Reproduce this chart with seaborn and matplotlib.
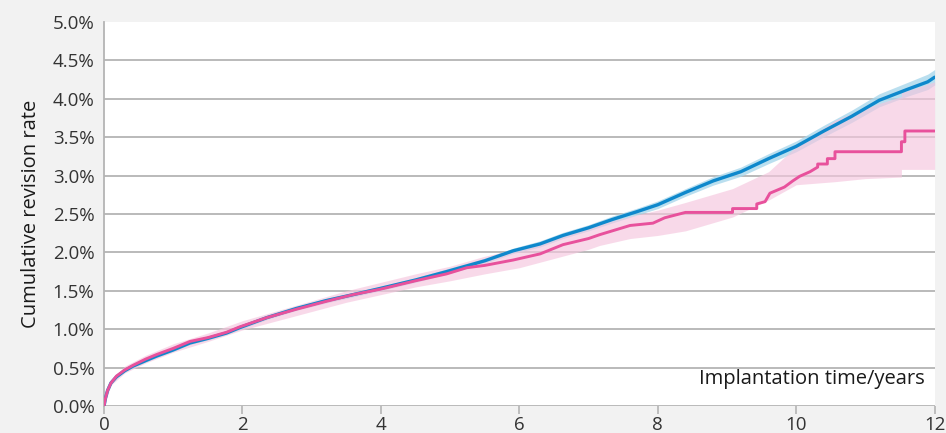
import numpy as np
import pandas as pd
import seaborn as sns
import matplotlib.pyplot as plt
from matplotlib.ticker import FuncFormatter

# 파란 곡선 (smooth)
blue_t = [0, 0.02, 0.05, 0.1, 0.18, 0.3, 0.42, 0.6, 0.76, 1.0, 1.24, 1.5, 1.77, 1.96,
          2.35, 2.78, 3.2, 3.6, 3.99, 4.5, 4.95, 5.5, 5.91, 6.3, 6.63, 7.0, 7.35, 7.7,
          8.0, 8.4, 8.8, 9.2, 9.6, 10.0, 10.4, 10.8, 11.2, 11.6, 11.9, 12.0]
blue_y = [0, 0.1, 0.2, 0.3, 0.38, 0.46, 0.52, 0.59, 0.65, 0.73, 0.82, 0.88, 0.95, 1.02,
          1.15, 1.27, 1.37, 1.45, 1.53, 1.64, 1.75, 1.89, 2.02, 2.11, 2.22, 2.32, 2.43, 2.53,
          2.62, 2.78, 2.93, 3.05, 3.22, 3.38, 3.58, 3.77, 3.98, 4.12, 4.22, 4.28]
blue_hw = [0, 0.01, 0.01, 0.015, 0.015, 0.02, 0.02, 0.02, 0.02, 0.02, 0.02, 0.02, 0.02, 0.025,
           0.025, 0.025, 0.03, 0.03, 0.03, 0.03, 0.035, 0.035, 0.035, 0.04, 0.04, 0.04, 0.045, 0.045,
           0.05, 0.05, 0.055, 0.06, 0.065, 0.07, 0.075, 0.08, 0.085, 0.09, 0.1, 0.1]

# 분홍 곡선 (뒤쪽은 계단 모양)
pink_t = [0, 0.02, 0.05, 0.1, 0.18, 0.3, 0.42, 0.6, 0.76, 1.0, 1.24, 1.5, 1.77, 1.96,
          2.35, 2.78, 3.2, 3.6, 3.99, 4.5, 4.95, 5.24, 5.5, 5.91, 6.3, 6.63, 7.0, 7.16,
          7.6, 7.93, 8.1, 8.4, 9.08, 9.08, 9.43, 9.43, 9.55, 9.62, 9.83, 9.95, 10.05, 10.2,
          10.31, 10.31, 10.45, 10.45, 10.56, 10.56, 11.52, 11.52, 11.57, 11.57, 12.0]
pink_y = [0, 0.1, 0.2, 0.3, 0.39, 0.47, 0.53, 0.61, 0.67, 0.75, 0.84, 0.89, 0.96, 1.03,
          1.15, 1.26, 1.36, 1.45, 1.52, 1.63, 1.72, 1.80, 1.83, 1.90, 1.98, 2.10, 2.18, 2.23,
          2.35, 2.38, 2.45, 2.52, 2.52, 2.57, 2.57, 2.63, 2.66, 2.77, 2.85, 2.93, 2.99, 3.05,
          3.11, 3.15, 3.15, 3.22, 3.22, 3.31, 3.31, 3.44, 3.44, 3.58, 3.58]

pink_band_t = [0, 0.1, 0.3, 0.6, 1, 1.5, 2, 2.5, 3, 3.5, 4, 4.5, 5, 5.5, 6, 6.5, 7, 7.16,
               7.6, 8.0, 8.4, 9.08, 9.6, 10.0, 10.56, 11.0, 11.52, 11.52, 12.0]
pink_lo = [0, 0.27, 0.43, 0.56, 0.70, 0.84, 0.99, 1.11, 1.23, 1.35, 1.45, 1.55, 1.63, 1.72,
           1.80, 1.92, 2.04, 2.09, 2.18, 2.22, 2.28, 2.46, 2.68, 2.88, 2.92, 2.96, 2.98, 3.08, 3.08]
pink_hi = [0, 0.34, 0.52, 0.66, 0.81, 0.95, 1.11, 1.24, 1.37, 1.50, 1.61, 1.72, 1.82, 1.95,
           2.05, 2.18, 2.33, 2.37, 2.47, 2.55, 2.65, 2.83, 3.05, 3.38, 3.72, 3.88, 4.03, 4.08, 4.22]

y_ticks = [0, 0.5, 1.0, 1.5, 2.0, 2.5, 3.0, 3.5, 4.0, 4.5, 5.0]
x_ticks = [0, 2, 4, 6, 8, 10, 12]

blue_col = '#0e88cc'
pink_col = '#e8519c'

sns.set_theme(style='white')
plt.rcParams['font.family'] = ['Open Sans', 'DejaVu Sans']

fig = plt.figure(figsize=(9.46, 4.33), dpi=100, facecolor='#f2f2f2')
ax = fig.add_axes([0.110, 0.0624, 0.878, 0.887])
ax.set_facecolor('white')

for y in y_ticks[:-1]:
    ax.axhline(y, color='#b4b4b4', lw=1.3, zorder=0)

bt = np.array(blue_t)
by = np.array(blue_y)
bh = np.array(blue_hw)
ax.fill_between(bt, by - bh, by + bh, color='#a9d7ec', alpha=0.8, lw=0, zorder=1)
ax.fill_between(pink_band_t, pink_lo, pink_hi, color='#f5c6de', alpha=0.65,
                lw=0, zorder=2)

blue_df = pd.DataFrame({'t': blue_t, 'y': blue_y})
pink_df = pd.DataFrame({'t': pink_t, 'y': pink_y})
sns.lineplot(data=blue_df, x='t', y='y', color=blue_col, lw=2.4, estimator=None,
             sort=False, ax=ax, zorder=3)
sns.lineplot(data=pink_df, x='t', y='y', color=pink_col, lw=2.1, estimator=None,
             sort=False, ax=ax, zorder=4)

ax.set_xlim(0, 12)
ax.set_ylim(0, 5.0)
ax.set_xticks(x_ticks)
ax.set_yticks(y_ticks)
ax.yaxis.set_major_formatter(FuncFormatter(lambda v, p: f'{v:.1f}%'))
ax.tick_params(axis='y', length=0, pad=7, labelsize=13.5, labelcolor='#333333')
ax.tick_params(axis='x', length=6, width=1.2, color='#b4b4b4', pad=1, labelsize=13.5,
               labelcolor='#333333', bottom=True)

for s in ['top', 'right', 'bottom']:
    ax.spines[s].set_visible(False)
ax.spines['left'].set_color('#b4b4b4')
ax.spines['left'].set_linewidth(1.3)

ax.set_xlabel('')
ax.set_ylabel('Cumulative revision rate', fontsize=14.5, color='#1a1a1a', labelpad=8)
ax.text(0.988, 0.045, 'Implantation time/years', transform=ax.transAxes, ha='right',
        va='bottom', fontsize=14.5, color='#1a1a1a')

fig.savefig('out.png', dpi=100, facecolor=fig.get_facecolor())
